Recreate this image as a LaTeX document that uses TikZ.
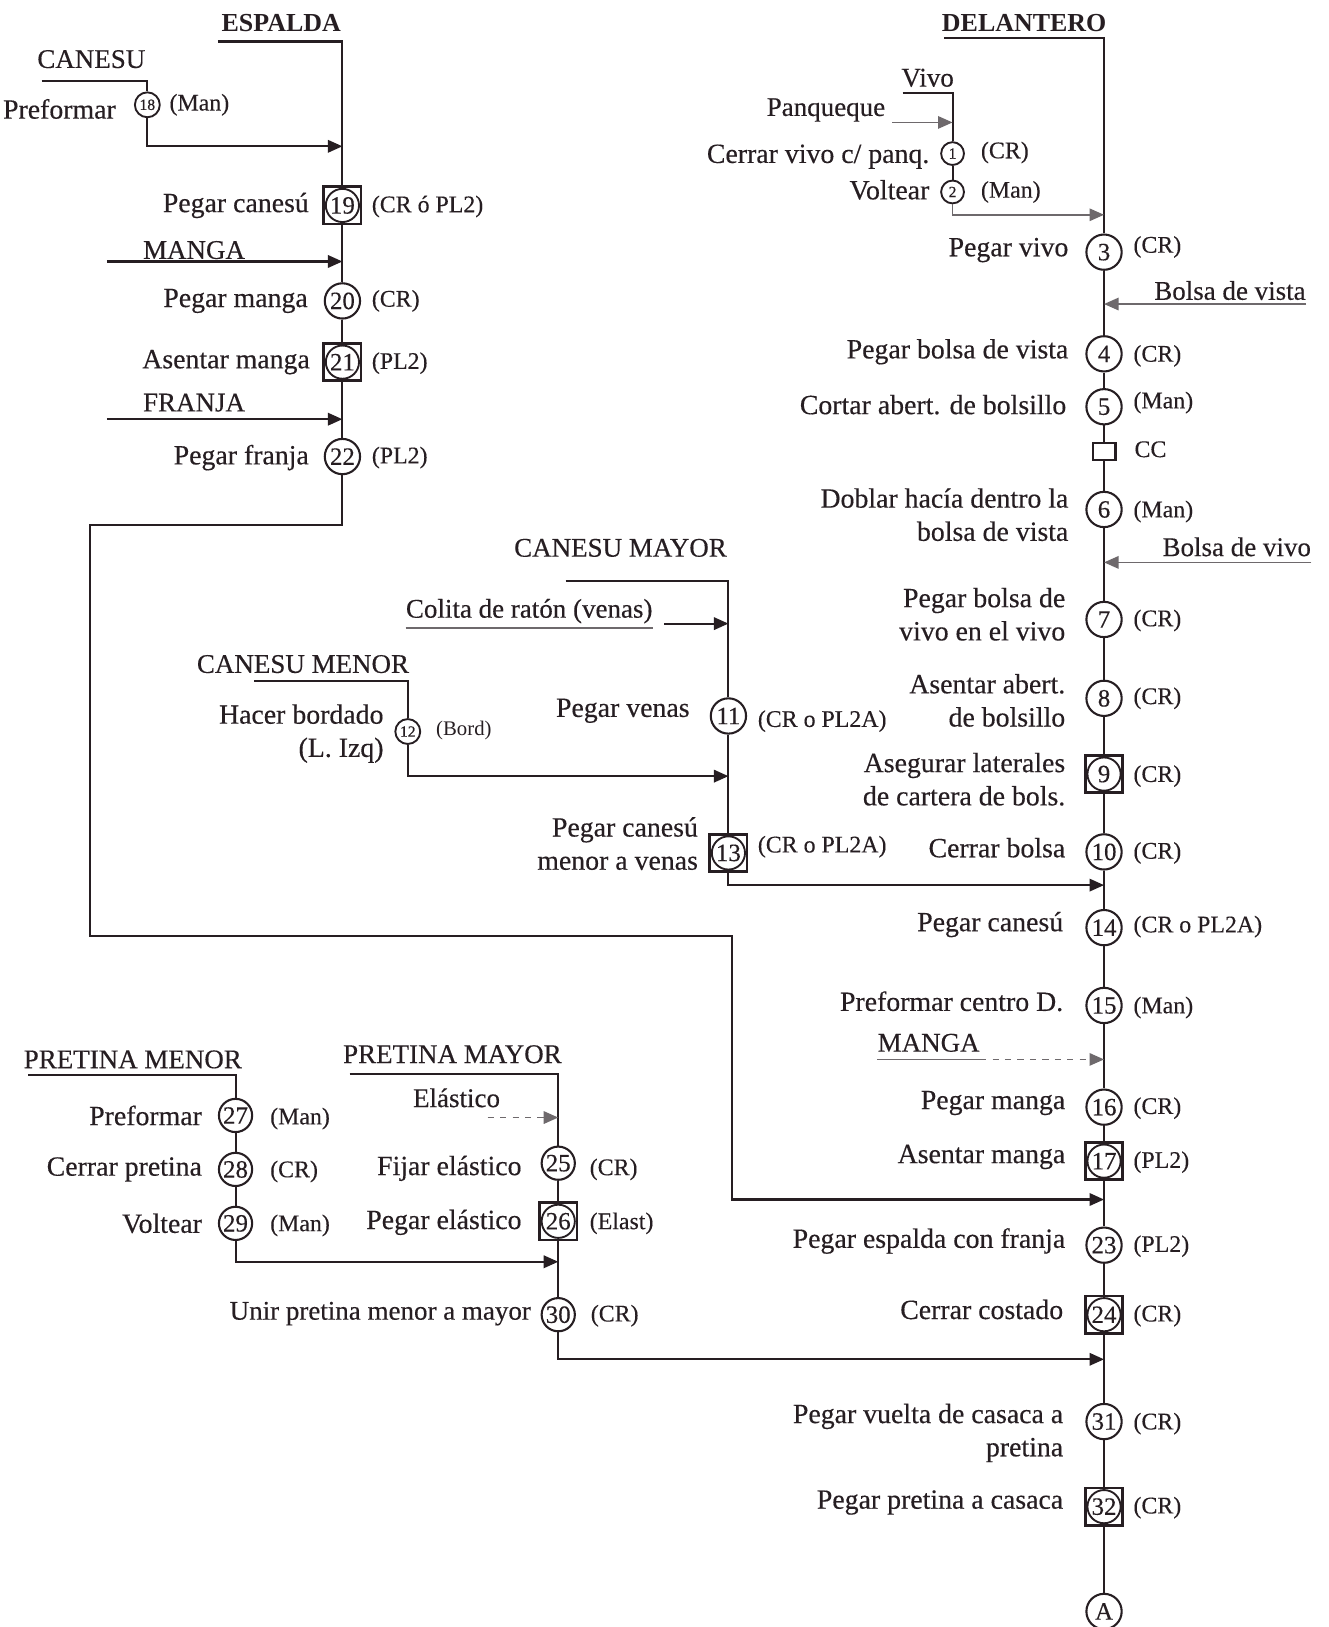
\documentclass[tikz,border=0pt]{standalone}
\usepackage{fontspec}
\setmainfont{Liberation Serif}
\usetikzlibrary{arrows.meta}
\definecolor{ink}{RGB}{38,30,34}
\definecolor{faint}{RGB}{110,105,108}
\begin{document}
\begin{tikzpicture}[x=0.5pt,y=-0.5pt,
  every node/.style={text=ink},
  ln/.style={draw=ink, line width=1pt},
  fl/.style={draw=faint, line width=0.8pt},
  arr/.style={-{Triangle[length=7pt,width=6pt]}},
  op/.style={circle, draw=ink, line width=1pt, minimum size=17pt, inner sep=0pt, font=\fontsize{12}{12}\selectfont\addfontfeature{FakeBold=0.3}},
  ops/.style={circle, draw=ink, line width=0.9pt, minimum size=11pt, inner sep=0pt, font=\fontsize{7.5}{7.5}\selectfont\addfontfeature{FakeBold=0.6}},
  combo/.style={rectangle, draw=ink, line width=1.3pt, minimum size=18pt, inner sep=0pt, font=\fontsize{12}{12}\selectfont\addfontfeature{FakeBold=0.3},
    path picture={\draw[ink, line width=0.9pt] (path picture bounding box.center) circle (8pt);}},
  lbl/.style={anchor=east, inner sep=0pt, align=right, font=\fontsize{13.4}{16}\selectfont\addfontfeature{FakeBold=0.35}},
  tag/.style={anchor=west, inner sep=0pt, font=\fontsize{11.5}{13}\selectfont\addfontfeature{FakeBold=0.2}},
  ttl/.style={inner sep=0pt, font=\bfseries\fontsize{12.5}{14}\selectfont},
  hd/.style={inner sep=0pt, font=\fontsize{13}{15}\selectfont\addfontfeature{FakeBold=0.35}},
]
\fill[white] (0,0) rectangle (1280,1568);
\useasboundingbox (0,0) rectangle (1280,1568);

% ===== DELANTERO column =====
\node[ttl] (tDel) at (987,22) {DELANTERO};
\node[op] (n3) at (1064,243) {3};
\node[op] (n4) at (1064,341) {4};
\node[op] (n5) at (1064,392) {5};
\node[draw=ink, line width=1pt, minimum width=11pt, minimum height=8.5pt, inner sep=0pt] (cc) at (1064,435) {};
\node[op] (n6) at (1064,491) {6};
\node[op] (n7) at (1064,597) {7};
\node[op] (n8) at (1064,673) {8};
\node[combo] (n9) at (1064,746) {9};
\node[op] (n10) at (1064,821) {10};
\node[op] (n14) at (1064,894) {14};
\node[op] (n15) at (1064,969) {15};
\node[op] (n16) at (1064,1067) {16};
\node[combo] (n17) at (1064,1119) {17};
\node[op] (n23) at (1064,1200) {23};
\node[combo] (n24) at (1064,1267) {24};
\node[op] (n31) at (1064,1370) {31};
\node[combo] (n32) at (1064,1452) {32};
\node[op] (nA) at (1064,1553) {A};

\node[lbl] (l3) at (1030,241) {Pegar vivo};
\node[tag] (t3) at (1092,238) {(CR)};
\node[hd, anchor=west] (lBv) at (1112,280) {Bolsa de vista};
\node[lbl] (l4) at (1030,339) {Pegar bolsa de vista};
\node[tag] (t4) at (1092,343) {(CR)};
\node[lbl] (l5) at (1028,390) {Cortar abert. de bolsillo};
\node[tag] (t5) at (1092,388) {(Man)};
\node[tag] (tcc) at (1093,433) {CC};
\node[lbl] (l6) at (1030,496) {Doblar hacía dentro la\\bolsa de vista};
\node[tag] (t6) at (1092,493) {(Man)};
\node[hd, anchor=west] (lBvv) at (1120,527) {Bolsa de vivo};
\node[lbl] (l7) at (1027,592) {Pegar bolsa de\\vivo en el vivo};
\node[tag] (t7) at (1092,598) {(CR)};
\node[lbl] (l8) at (1027,675) {Asentar abert.\\de bolsillo};
\node[tag] (t8) at (1092,673) {(CR)};
\node[lbl] (l9) at (1027,751) {Asegurar laterales\\de cartera de bols.};
\node[tag] (t9) at (1092,748) {(CR)};
\node[lbl] (l10) at (1027,817) {Cerrar bolsa};
\node[tag] (t10) at (1092,822) {(CR)};
\node[lbl] (l14) at (1025,891) {Pegar canesú};
\node[tag] (t14) at (1092,893) {(CR o PL2A)};
\node[lbl] (l15) at (1025,965) {Preformar centro D.};
\node[tag] (t15) at (1092,971) {(Man)};
\node[hd] (tMg2) at (895,1005) {MANGA};
\node[lbl] (l16) at (1027,1063) {Pegar manga};
\node[tag] (t16) at (1092,1068) {(CR)};
\node[lbl] (l17) at (1027,1115) {Asentar manga};
\node[tag] (t17) at (1092,1120) {(PL2)};
\node[lbl] (l23) at (1027,1196) {Pegar espalda con franja};
\node[tag] (t23) at (1092,1201) {(PL2)};
\node[lbl] (l24) at (1025,1262) {Cerrar costado};
\node[tag] (t24) at (1092,1268) {(CR)};
\node[lbl] (l31) at (1025,1381) {Pegar vuelta de casaca a\\pretina};
\node[tag] (t31) at (1092,1372) {(CR)};
\node[lbl] (l32) at (1025,1448) {Pegar pretina a casaca};
\node[tag] (t32) at (1092,1453) {(CR)};

\coordinate (cDel) at (910,37);
\draw[ln] (cDel) -| (n3);
\draw[ln] (n3) -- (n4) -- (n5) -- (cc) -- (n6) -- (n7) -- (n8) -- (n9) -- (n10) -- (n14) -- (n15) -- (n16) -- (n17) -- (n23) -- (n24) -- (n31) -- (n32) -- (nA);

\coordinate (jBv) at (1064,293);
\draw[fl,arr] (lBv.east |- jBv) -- (jBv);
\coordinate (jBvv) at (1064,542);
\draw[fl,arr] (lBvv.east |- jBvv) -- (jBvv);
\coordinate (jMg2) at (1064,1021);
\draw[fl] (tMg2.west |- jMg2) -- (tMg2.east |- jMg2);
\draw[fl,dashed,arr] (tMg2.east |- jMg2) -- (jMg2);

% Vivo sub-chain
\node[hd] (tViv) at (894,75) {Vivo};
\node[hd] (tPan) at (796,106) {Panqueque};
\node[ops] (n1) at (918,148) {1};
\node[ops] (n2) at (918,185) {2};
\node[lbl] (l1) at (896,151) {Cerrar vivo c/ panq.};
\node[tag] (t1) at (945,147) {(CR)};
\node[lbl] (l2) at (896,183) {Voltear};
\node[tag] (t2) at (945,185) {(Man)};
\coordinate (cViv) at (870,90);
\draw[ln] (cViv) -| (n1);
\draw[ln] (n1) -- (n2);
\coordinate (sPan) at (860,118);
\coordinate (jPan) at (918,118);
\draw[fl,arr] (sPan) -- (jPan);
\coordinate (jV) at (1064,207);
\draw[fl,arr] (n2) |- (jV);

% ===== ESPALDA column =====
\node[ttl] (tEsp) at (271,22) {ESPALDA};
\node[hd] (tCan) at (88,57) {CANESU};
\node[ops, minimum size=12pt] (n18) at (142,101) {18};
\node[lbl] (l18) at (112,105) {Preformar};
\node[tag] (t18) at (163,101) {(Man)};
\node[combo] (n19) at (330,198) {19};
\node[lbl] (l19) at (298,198) {Pegar canesú};
\node[tag] (t19) at (358,199) {(CR ó PL2)};
\node[hd] (tMg1) at (187,241) {MANGA};
\node[op] (n20) at (330,290) {20};
\node[lbl] (l20) at (297,290) {Pegar manga};
\node[tag] (t20) at (358,290) {(CR)};
\node[combo] (n21) at (330,349) {21};
\node[lbl] (l21) at (299,349) {Asentar manga};
\node[tag] (t21) at (358,350) {(PL2)};
\node[hd] (tFr) at (187,388) {FRANJA};
\node[op] (n22) at (330,440) {22};
\node[lbl] (l22) at (298,441) {Pegar franja};
\node[tag] (t22) at (358,441) {(PL2)};

\coordinate (cEsp) at (210,40);
\draw[ln] (cEsp) -| (n19);
\draw[ln] (n19) -- (n20) -- (n21) -- (n22);
\coordinate (cCan) at (40,78);
\draw[ln] (cCan) -| (n18);
\coordinate (j18) at (330,141);
\draw[ln,arr] (n18) |- (j18);
\coordinate (sMg1) at (103,252);
\coordinate (jMg1) at (330,252);
\draw[ln,arr] (sMg1) -- (jMg1);
\coordinate (sFr) at (103,404);
\coordinate (jFr) at (330,404);
\draw[ln,arr] (sFr) -- (jFr);
\coordinate (jEsp) at (1064,1156);
\draw[ln,arr] (n22) -- (330,506) -- (87,506) -- (87,902) -- (705,902) |- (jEsp);

% ===== CANESU MAYOR / MENOR =====
\node[hd] (tCM) at (598,528) {CANESU MAYOR};
\node[hd] (tCol) at (510,589) {Colita de ratón (venas)};
\node[op] (n11) at (702,690) {11};
\node[lbl] (l11) at (665,685) {Pegar venas};
\node[tag] (t11) at (730,695) {(CR o PL2A)};
\node[hd] (tCm) at (292,640) {CANESU MENOR};
\node[ops, minimum size=12pt] (n12) at (393,705) {12};
\node[lbl] (l12) at (370,707) {Hacer bordado\\(L. Izq)};
\node[tag, font=\fontsize{10}{12}\selectfont] (t12) at (420,704) {(Bord)};
\node[combo] (n13) at (702,822) {13};
\node[lbl] (l13) at (673,813) {Pegar canesú\\menor a venas};
\node[tag] (t13) at (730,816) {(CR o PL2A)};

\coordinate (cCM) at (545,560);
\draw[ln] (cCM) -| (n11);
\draw[ln] (n11) -- (n13);
\draw[fl] ([yshift=-2pt]tCol.south west) -- ([yshift=-2pt]tCol.south east);
\coordinate (sCol) at (640,601);
\coordinate (jCol) at (702,601);
\draw[ln,arr] (sCol) -- (jCol);
\coordinate (cCm) at (245,656);
\draw[ln] (cCm) -| (n12);
\coordinate (j12) at (702,748);
\draw[ln,arr] (n12) |- (j12);
\coordinate (j13) at (1064,853);
\draw[ln,arr] (n13) |- (j13);

% ===== PRETINA =====
\node[hd] (tPm) at (128,1021) {PRETINA MENOR};
\node[op, minimum size=16pt] (n27) at (227,1075) {27};
\node[op, minimum size=16pt] (n28) at (227,1127) {28};
\node[op, minimum size=16pt] (n29) at (227,1179) {29};
\node[lbl] (l27) at (195,1075) {Preformar};
\node[tag] (t27) at (260,1078) {(Man)};
\node[lbl] (l28) at (195,1127) {Cerrar pretina};
\node[tag] (t28) at (260,1129) {(CR)};
\node[lbl] (l29) at (195,1179) {Voltear};
\node[tag] (t29) at (260,1181) {(Man)};

\node[hd] (tPM) at (436,1016) {PRETINA MAYOR};
\node[hd] (tEl) at (440,1058) {Elástico};
\node[op, minimum size=16pt] (n25) at (538,1121) {25};
\node[combo] (n26) at (538,1177) {26};
\node[op, minimum size=16pt] (n30) at (538,1267) {30};
\node[lbl] (l25) at (503,1126) {Fijar elástico};
\node[tag] (t25) at (568,1127) {(CR)};
\node[lbl] (l26) at (503,1178) {Pegar elástico};
\node[tag] (t26) at (568,1179) {(Elast)};
\node[lbl, font=\fontsize{13}{16}\selectfont\addfontfeature{FakeBold=0.35}] (l30) at (512,1266) {Unir pretina menor a mayor};
\node[tag] (t30) at (569,1268) {(CR)};

\coordinate (cPm) at (27,1036);
\draw[ln] (cPm) -| (n27);
\draw[ln] (n27) -- (n28) -- (n29);
\coordinate (j29) at (538,1216);
\draw[ln,arr] (n29) |- (j29);
\coordinate (cPM) at (337,1035);
\draw[ln] (cPM) -| (n25);
\coordinate (sEl) at (470,1077);
\coordinate (jEl) at (538,1077);
\draw[fl,dashed,arr] (sEl) -- (jEl);
\draw[ln] (n25) -- (n26) -- (n30);
\coordinate (j30) at (1064,1310);
\draw[ln,arr] (n30) |- (j30);
\end{tikzpicture}
\end{document}
